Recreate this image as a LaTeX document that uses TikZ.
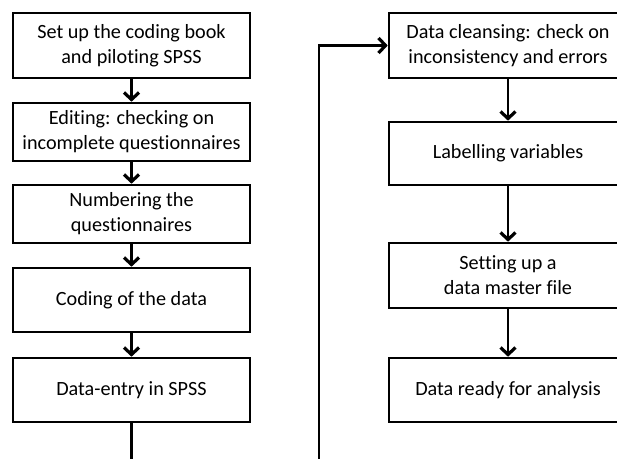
\documentclass[tikz,border=0pt]{standalone}
\usepackage{fontspec}
\setmainfont{Carlito}[Ligatures=NoCommon]
\usetikzlibrary{arrows.meta}
\begin{document}
\begin{tikzpicture}[x=1pt,y=-1pt,
  box/.style={draw=black,line width=2.6pt,fill=white,minimum width=237pt,align=center,
    font=\fontsize{20.2}{25}\selectfont,inner sep=0pt},
  flow/.style={line width=2.8pt,-{Straight Barb[length=7pt,width=15pt,line width=3.2pt]}}]
\clip (0,0) rectangle (617,458);
\fill[white] (0,0) rectangle (617,458);
\node[box,minimum height=65pt] (L1) at (131.5,45.5) {Set up the coding book\\and piloting SPSS};
\node[box,minimum height=58pt] (L2) at (131.5,132) {Editing: checking on\\incomplete questionnaires};
\node[box,minimum height=58pt] (L3) at (131.5,214) {Numbering the\\questionnaires};
\node[box,minimum height=64pt] (L4) at (131.5,300) {Coding of the data};
\node[box,minimum height=64pt] (L5) at (131.5,390) {Data-entry in SPSS};
\node[box,minimum width=238pt,minimum height=65pt] (R1) at (508,45.5) {Data cleansing: check on\\inconsistency and errors};
\node[box,minimum width=238pt,minimum height=63pt] (R2) at (508,153.5) {Labelling variables};
\node[box,minimum width=238pt,minimum height=65pt] (R3) at (508,275.5) {Setting up a\\data master file};
\node[box,minimum width=238pt,minimum height=64pt] (R4) at (508,390) {Data ready for analysis};
\coordinate (turn) at (319,45.5);
\draw[flow] (L1) -- (L2);
\draw[flow] (L2) -- (L3);
\draw[flow] (L3) -- (L4);
\draw[flow] (L4) -- (L5);
\draw[flow] (L5.south) -- (131.5,490) -| (turn) -- (R1.west);
\draw[flow] (R1) -- (R2);
\draw[flow] (R2) -- (R3);
\draw[flow] (R3) -- (R4);
\end{tikzpicture}
\end{document}
